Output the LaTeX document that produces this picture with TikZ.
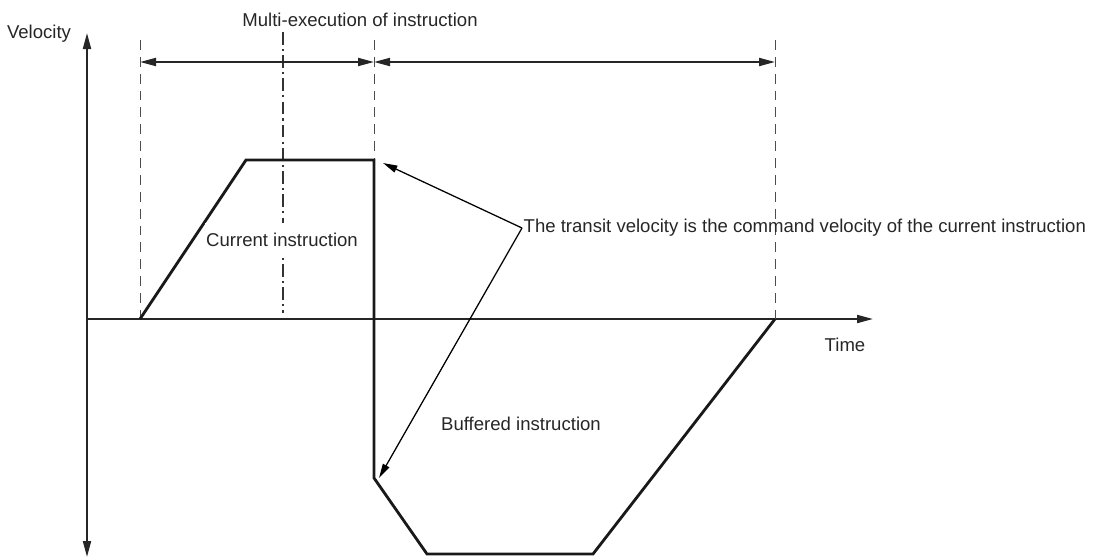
\documentclass[tikz,border=0pt]{standalone}
\usepackage{fontspec}
\setmainfont{Liberation Sans}
\usetikzlibrary{arrows.meta}

\begin{document}
\begin{tikzpicture}[x=0.025cm,y=-0.025cm,font=\fontsize{13.2}{15}\selectfont,
  >={Triangle[length=4mm,width=2mm]},
  axis/.style={line width=1.4pt,draw=black!85},
  guide/.style={line width=0.7pt,draw=black!70,dash pattern=on 7pt off 5pt},
  guidedot/.style={line width=0.8pt,draw=black!80,dash pattern=on 9pt off 3pt on 1.5pt off 3pt},
  profile/.style={line width=2pt,line join=miter,draw=black!90},
  note/.style={->,line width=0.9pt,>={Triangle[length=3.6mm,width=1.8mm]}},
  lbl/.style={inner sep=1pt,text=black!85}]
\useasboundingbox (0,0) rectangle (1095,558);
% axes
\coordinate (o) at (87,319);
\coordinate (vtop) at (87,33);
\coordinate (vbot) at (87,557);
\coordinate (tend) at (873,319);
\draw[axis,<->] (vbot) -- (vtop);
\draw[axis,->] (o) -- (tend);
\node[lbl] (vlab) at (39,34) {Velocity};
\node[lbl] (tlab) at (845,345) {Time};
% guide lines
\draw[guide] (140,40) -- (140,319);
\draw[guide] (374,40) -- (374,319);
\draw[guide] (775,40) -- (775,319);
\draw[guidedot] (283,32) -- (283,313);
\node[lbl] (multi) at (360,20) {Multi-execution of instruction};
\draw[axis,<->] (140,62) -- (374,62);
\draw[axis,<->] (374,62) -- (775,62);
% velocity profile
\draw[profile] (140,319) -- (246,160) -- (374,160) -- (374,478) -- (427,554) -- (593,554) -- (775,319);
\node[lbl,fill=white,inner ysep=7pt] (cur) at (282,240) {Current instruction};
\node[lbl] (buf) at (521,424) {Buffered instruction};
% transit velocity note
\node[lbl,anchor=west] (transit) at (522,228) {The transit velocity is the command velocity of the current instruction};
\coordinate (hi) at (383,163);
\coordinate (lo) at (379,478);
\draw[note] (transit.west) -- (hi);
\draw[note] (transit.west) -- (lo);
\end{tikzpicture}
\end{document}
